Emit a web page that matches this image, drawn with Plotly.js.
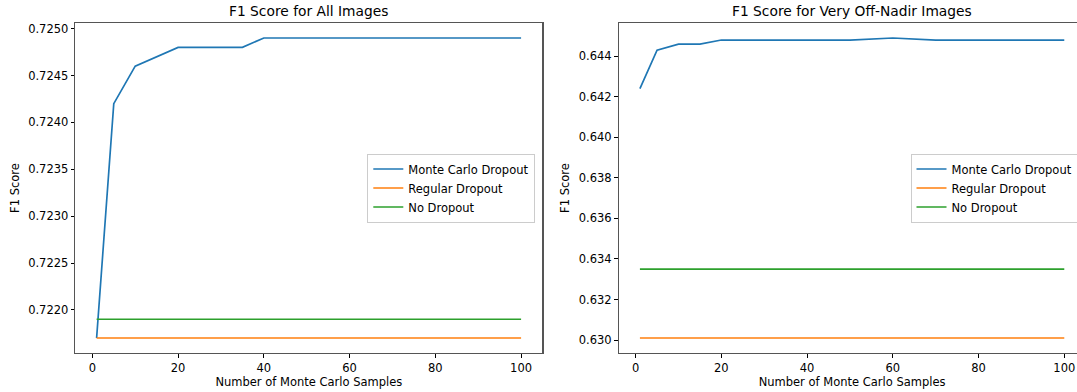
<!DOCTYPE html>
<html>
<head>
<meta charset="utf-8">
<script src="https://cdn.plot.ly/plotly-3.0.1.min.js"></script>
<style>
html, body { margin: 0; padding: 0; overflow: hidden; background: #fff; }
#chart { width: 1087px; height: 392px; }
</style>
</head>
<body>
<div id="chart"></div>
<script>
// ---- data ----
const samples = [1, 5, 10, 15, 20, 25, 30, 35, 40, 50, 60, 70, 80, 90, 100];
const mcAll = [0.7217, 0.7242, 0.7246, 0.7247, 0.7248, 0.7248, 0.7248, 0.7248, 0.7249, 0.7249, 0.7249, 0.7249, 0.7249, 0.7249, 0.7249];
const mcOffNadir = [0.6424, 0.6443, 0.6446, 0.6446, 0.6448, 0.6448, 0.6448, 0.6448, 0.6448, 0.6448, 0.6449, 0.6448, 0.6448, 0.6448, 0.6448];
const flatX = [1, 100];
const regularAll = [0.7217, 0.7217];
const noDropAll = [0.7219, 0.7219];
const regularOffNadir = [0.6301, 0.6301];
const noDropOffNadir = [0.6335, 0.6335];
const seriesNames = ["Monte Carlo Dropout", "Regular Dropout", "No Dropout"];
const titles = ["F1 Score for All Images", "F1 Score for Very Off-Nadir Images"];
const xTitle = "Number of Monte Carlo Samples";
const yTitle = "F1 Score";
const colors = ["#1f77b4", "#ff7f0e", "#2ca02c"];

const W = 1087, H = 392;
const FONT = "DejaVu Sans, sans-serif";
const lw = 1.7;

const traces = [
  {x: samples, y: mcAll, name: seriesNames[0], xaxis: "x", yaxis: "y", legend: "legend"},
  {x: flatX, y: regularAll, name: seriesNames[1], xaxis: "x", yaxis: "y", legend: "legend"},
  {x: flatX, y: noDropAll, name: seriesNames[2], xaxis: "x", yaxis: "y", legend: "legend"},
  {x: samples, y: mcOffNadir, name: seriesNames[0], xaxis: "x2", yaxis: "y2", legend: "legend2"},
  {x: flatX, y: regularOffNadir, name: seriesNames[1], xaxis: "x2", yaxis: "y2", legend: "legend2"},
  {x: flatX, y: noDropOffNadir, name: seriesNames[2], xaxis: "x2", yaxis: "y2", legend: "legend2"}
].map((t, i) => Object.assign(t, {
  type: "scatter", mode: "lines",
  line: {color: colors[i % 3], width: lw},
  hoverinfo: "skip"
}));

function xa(domain) {
  return {
    domain: domain, range: [-3.95, 104.95], tickvals: [0, 20, 40, 60, 80, 100],
    ticks: "outside", ticklen: 3.5, tickwidth: 1, tickcolor: "#000",
    showline: true, mirror: true, linecolor: "#555", linewidth: 1.2,
    showgrid: false, zeroline: false,
    tickfont: {family: FONT, size: 11.5, color: "#000"},
    title: {text: xTitle, font: {family: FONT, size: 11.5, color: "#000"}, standoff: 4},
    automargin: false
  };
}
function ya(domain, range, vals, fmt, anchor) {
  return {
    domain: domain, range: range, tickvals: vals, tickformat: fmt, anchor: anchor,
    ticks: "outside", ticklen: 3.5, tickwidth: 1, tickcolor: "#000",
    showline: true, mirror: true, linecolor: "#555", linewidth: 1.2,
    showgrid: false, zeroline: false,
    tickfont: {family: FONT, size: 11.5, color: "#000"},
    title: {text: yTitle, font: {family: FONT, size: 11.5, color: "#000"}, standoff: 6},
    automargin: false
  };
}

const yDom = [(H - 353) / H, (H - 23) / H];
const x1Dom = [75.4 / W, 542.3 / W];
const x2Dom = [618.7 / W, 1085.5 / W];

const legendStyle = (xr) => ({
  x: xr, xanchor: "right", y: (H - 188) / H, yanchor: "middle",
  bgcolor: "rgba(255,255,255,0.8)", bordercolor: "#cccccc", borderwidth: 1,
  font: {family: FONT, size: 11.5, color: "#000"},
  tracegroupgap: 0, itemwidth: 30
});

const layout = {
  width: W, height: H,
  margin: {l: 0, r: 0, t: 0, b: 0},
  paper_bgcolor: "#fff", plot_bgcolor: "#fff",
  showlegend: true,
  xaxis: Object.assign(xa(x1Dom), {anchor: "y"}),
  yaxis: ya(yDom, [0.72154, 0.72506], [0.7220, 0.7225, 0.7230, 0.7235, 0.7240, 0.7245, 0.7250], ".4f", "x"),
  xaxis2: Object.assign(xa(x2Dom), {anchor: "y2"}),
  yaxis2: ya(yDom, [0.62936, 0.64564], [0.630, 0.632, 0.634, 0.636, 0.638, 0.640, 0.642, 0.644], ".3f", "x2"),
  legend: legendStyle((542.3 - 7) / W),
  legend2: legendStyle((1085.5 - 7) / W),
  annotations: [
    {text: titles[0], xref: "paper", yref: "paper", x: (x1Dom[0] + x1Dom[1]) / 2, y: (H - 11) / H,
     xanchor: "center", yanchor: "middle", showarrow: false, font: {family: FONT, size: 13.8, color: "#000"}},
    {text: titles[1], xref: "paper", yref: "paper", x: (x2Dom[0] + x2Dom[1]) / 2, y: (H - 11) / H,
     xanchor: "center", yanchor: "middle", showarrow: false, font: {family: FONT, size: 13.8, color: "#000"}}
  ]
};

Plotly.newPlot("chart", traces, layout, {staticPlot: true, displayModeBar: false});
</script>
</body>
</html>
